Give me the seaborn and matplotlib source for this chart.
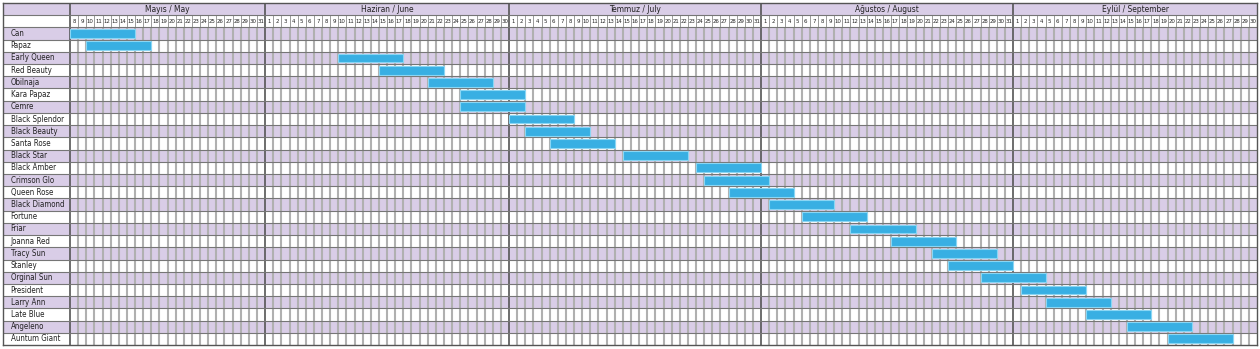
import matplotlib
matplotlib.use("Agg")
import matplotlib.pyplot as plt
import seaborn as sns
import numpy as np
import pandas as pd
from datetime import date

# ---------------- data ----------------
varieties = ["Can", "Papaz", "Early Queen", "Red Beauty", "Obilnaja", "Kara Papaz",
             "Cemre", "Black Splendor", "Black Beauty", "Santa Rose", "Black Star",
             "Black Amber", "Crimson Glo", "Queen Rose", "Black Diamond", "Fortune",
             "Friar", "Joanna Red", "Tracy Sun", "Stanley", "Orginal Sun", "President",
             "Larry Ann", "Late Blue", "Angeleno", "Auntum Giant"]
start_dates = ["05-08", "05-10", "06-10", "06-15", "06-21", "06-25", "06-25", "07-01",
               "07-03", "07-06", "07-15", "07-24", "07-25", "07-28", "08-02", "08-06",
               "08-12", "08-17", "08-22", "08-24", "08-28", "09-02", "09-05", "09-10",
               "09-15", "09-20"]
end_dates = ["05-15", "05-17", "06-17", "06-22", "06-28", "07-02", "07-02", "07-08",
             "07-10", "07-13", "07-22", "07-31", "08-01", "08-04", "08-09", "08-13",
             "08-19", "08-24", "08-29", "08-31", "09-04", "09-09", "09-12", "09-17",
             "09-22", "09-27"]
month_labels = ["Mayıs / May", "Haziran / June", "Temmuz / July",
                "Ağustos / August", "Eylül / September"]
month_numbers = [5, 6, 7, 8, 9]
month_lengths = [31, 30, 31, 31, 30]
first_day = "05-08"

# ---------------- helpers ----------------
def to_date(s):
    m, d = s.split("-")
    return date(2021, int(m), int(d))

origin = to_date(first_day)
start_off = np.array([(to_date(s) - origin).days for s in start_dates], dtype=float)
end_off = np.array([(to_date(s) - origin).days + 1 for s in end_dates], dtype=float)
df = pd.DataFrame({"variety": varieties, "start": start_off, "dur": end_off - start_off})

# day columns
day_numbers = []
month_spans = []
pos = 0
for mn, ml in zip(month_numbers, month_lengths):
    d0 = origin.day if mn == origin.month else 1
    days = list(range(d0, ml + 1))
    month_spans.append((pos, pos + len(days)))
    day_numbers.extend(days)
    pos += len(days)
total_days = pos
n = len(varieties)

# ---------------- style ----------------
sns.set_style("white")
plt.rcParams["font.family"] = ["DejaVu Sans"]
plt.rcParams["font.stretch"] = "condensed"

lav = "#d9cde7"
bar_c = "#38afe3"
bar_edge = "#8ad6f4"
grid_c = "#b0b0b0"
dark = "#555555"
hline_c = "#767676"
text_c = "#222222"

W, H = 1260, 349
fig = plt.figure(figsize=(W / 100, H / 100), dpi=100)
fig.patch.set_facecolor("white")
ax = fig.add_axes([3 / W, 4 / H, 1254 / W, 342 / H])

LW = 67 / (1187 / total_days)  # label column width in day units

sns.barplot(data=df, x="dur", y="variety", order=varieties, orient="y",
            left=df["start"].to_numpy(), color=bar_c, saturation=1, width=0.72,
            edgecolor=bar_edge, linewidth=0.8, errorbar=None, ax=ax, zorder=5)

ax.set_xlim(-LW, total_days)
ax.set_ylim(n - 0.5, -2.5)
ax.set_xticks([])
ax.set_yticks([])
ax.set_xlabel("")
ax.set_ylabel("")

# stripes
for i in range(-2, n):
    if i % 2 == 0:
        ax.axhspan(i - 0.5, i + 0.5, color=lav, lw=0, zorder=0)

# vertical day lines
boundaries = {s for s, e in month_spans} | {e for s, e in month_spans}
inner = [k for k in range(1, total_days) if k not in boundaries]
ax.vlines(inner, -0.5, n - 0.5, colors=grid_c, lw=1.5, zorder=1)
ax.vlines(inner, -1.5, -0.5, colors="#8a8a8a", lw=0.6, zorder=1)
ax.vlines(sorted(boundaries - {0, total_days}), -2.5, n - 0.5, colors=dark, lw=1.2, zorder=2)
ax.vlines([0], -2.5, n - 0.5, colors=dark, lw=1.2, zorder=2)

# horizontal row lines
ax.hlines(np.arange(-1.5, n - 0.5, 1.0), -LW, total_days, colors=hline_c, lw=0.8, zorder=2)

for sp in ax.spines.values():
    sp.set_visible(True)
    sp.set_color(dark)
    sp.set_linewidth(1.0)

# texts
for i, v in enumerate(varieties):
    ax.text(-LW + 0.95, i, v, ha="left", va="center", fontsize=5.7, color=text_c)
for (s, e), lab in zip(month_spans, month_labels):
    ax.text((s + e) / 2, -2, lab, ha="center", va="center", fontsize=6.0, color=text_c)
for k, dn in enumerate(day_numbers):
    ax.text(k + 0.5, -1, str(dn), ha="center", va="center", fontsize=4.3, color=text_c)

fig.savefig("out.png", dpi=100)
